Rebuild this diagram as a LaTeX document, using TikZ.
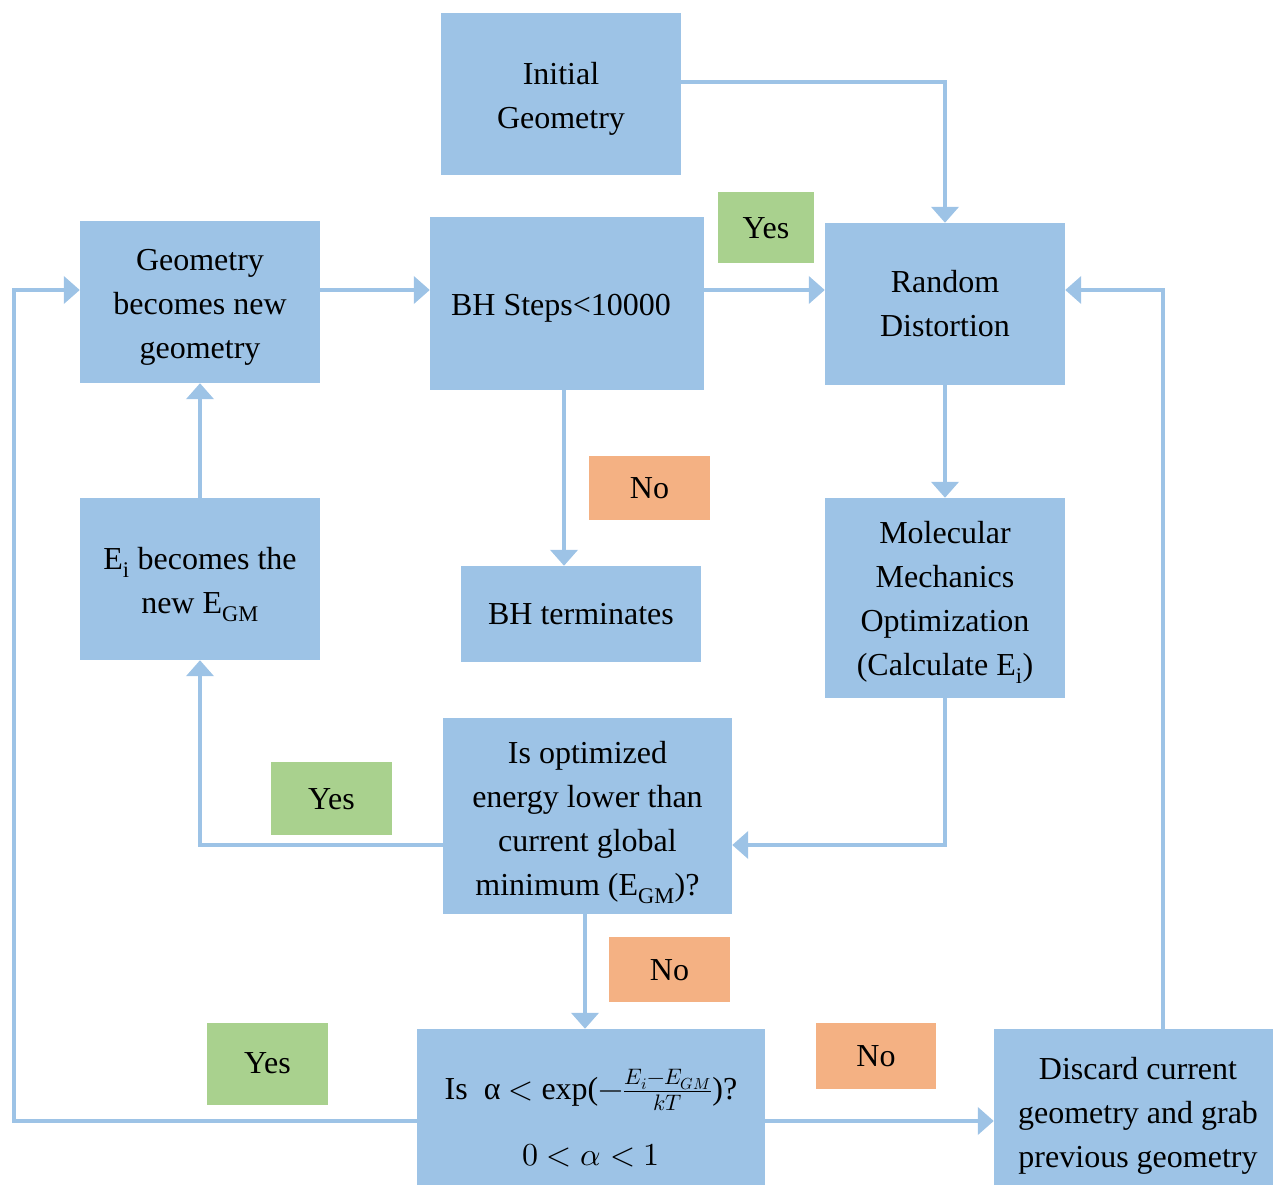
\documentclass[tikz,border=0pt]{standalone}
\usepackage{fontspec}
\usepackage{unicode-math}
\setmainfont{Liberation Serif}
\setmathfont{Latin Modern Math}
\usetikzlibrary{arrows.meta}
\definecolor{boxblue}{HTML}{9DC3E6}
\definecolor{yesgreen}{HTML}{A9D18E}
\definecolor{noorange}{HTML}{F4B183}
\newcommand\bt[2][4pt]{\raisebox{-#1}[\height][\depth]{\begin{tabular}{@{}c@{}}#2\end{tabular}}}
\begin{document}
\begin{tikzpicture}[x=1pt,y=-1pt,
  every node/.style={font=\fontsize{32}{44}\selectfont, inner sep=0pt, align=center, text=black},
  blk/.style={fill=boxblue, draw=none},
  yeslbl/.style={fill=yesgreen},
  nolbl/.style={fill=noorange},
  arr/.style={draw=boxblue, line width=4pt, -{Triangle[width=27pt,length=16pt]}}]
\useasboundingbox (0,0) rectangle (1273,1185);
% boxes
\node[blk, minimum width=240pt, minimum height=162pt] (init) at (561,94) {\bt{Initial\\Geometry}};
\node[blk, minimum width=240pt, minimum height=162pt] (geo) at (200,302) {\bt[3.5pt]{Geometry\\becomes new\\geometry}};
\node[blk, minimum width=274pt, minimum height=173pt] (bh) at (567,303.5) {\bt[3pt]{BH Steps<10000\kern12pt}};
\node[blk, minimum width=240pt, minimum height=162pt] (rand) at (945,304) {\bt[1.5pt]{Random\\Distortion}};
\node[blk, minimum width=240pt, minimum height=96pt] (term) at (581,614) {\bt[2pt]{BH terminates}};
\node[blk, minimum width=240pt, minimum height=162pt] (ei) at (200,579) {\bt[3.5pt]{E\textsubscript{i} becomes the\\new E\textsubscript{GM}}};
\node[blk, minimum width=240pt, minimum height=200pt] (mm) at (945,598) {\bt[3pt]{Molecular\\Mechanics\\Optimization\\(Calculate E\textsubscript{i})}};
\node[blk, minimum width=289pt, minimum height=196pt] (opt) at (587.5,816) {\bt[4.5pt]{Is optimized\\energy lower than\\current global\\minimum (E\textsubscript{GM})?}};
\node[blk, minimum width=348pt, minimum height=156pt] (alpha) at (591,1107) {};
\node (alphatext) at (591,1118) {Is\ \ α $<$ exp($-\frac{E_i-E_{GM}}{kT}$)?\\[22pt]$0<\alpha<1$};
\node[blk, minimum width=279pt, minimum height=156pt] (disc) at (1133.5,1107) {\bt[8pt]{\hspace{9pt}Discard current\\\hspace{9pt}geometry and grab\\\hspace{9pt}previous geometry}};
% labels
\node[yeslbl, minimum width=96pt, minimum height=71pt] (yes1) at (766,227.5) {\bt[2pt]{Yes}};
\node[nolbl, minimum width=121pt, minimum height=64pt] (no1) at (649.5,488) {\bt[2pt]{No}};
\node[yeslbl, minimum width=121pt, minimum height=73pt] (yes2) at (331.5,798.5) {\bt[2pt]{Yes}};
\node[nolbl, minimum width=121pt, minimum height=65pt] (no2) at (669.5,969.5) {\bt[2pt]{No}};
\node[yeslbl, minimum width=121pt, minimum height=82pt] (yes3) at (267.5,1064) {\bt[1pt]{Yes}};
\node[nolbl, minimum width=120pt, minimum height=66pt] (no3) at (876,1056) {\bt[2pt]{No}};
% connectors
\coordinate (lc) at (14,1121);
\draw[arr] ([yshift=12pt]init.east) -| (rand.north);
\draw[arr] ([yshift=12pt]geo.east) -- ([yshift=12pt]geo.east -| bh.west);
\draw[arr] ([yshift=13.5pt]bh.east) -- ([yshift=13.5pt]bh.east -| rand.west);
\draw[arr] ([xshift=-3pt]bh.south) -- ([xshift=-3pt]bh.south |- term.north);
\draw[arr] (rand.south) -- (mm.north);
\draw[arr] (mm.south) |- ([yshift=-29pt]opt.east);
\draw[arr] ([yshift=-29pt]opt.west) -| (ei.south);
\draw[arr] (ei.north) -- (geo.south);
\draw[arr] ([xshift=-2.5pt]opt.south) -- ([xshift=-2.5pt]opt.south |- alpha.north);
\draw[arr] ([yshift=-14pt]alpha.west) -- (lc) |- ([yshift=12pt]geo.west);
\draw[arr] ([yshift=-14pt]alpha.east) -- ([yshift=-14pt]alpha.east -| disc.west);
\draw[arr] ([xshift=29.5pt]disc.north) |- ([yshift=14pt]rand.east);
\end{tikzpicture}
\end{document}
